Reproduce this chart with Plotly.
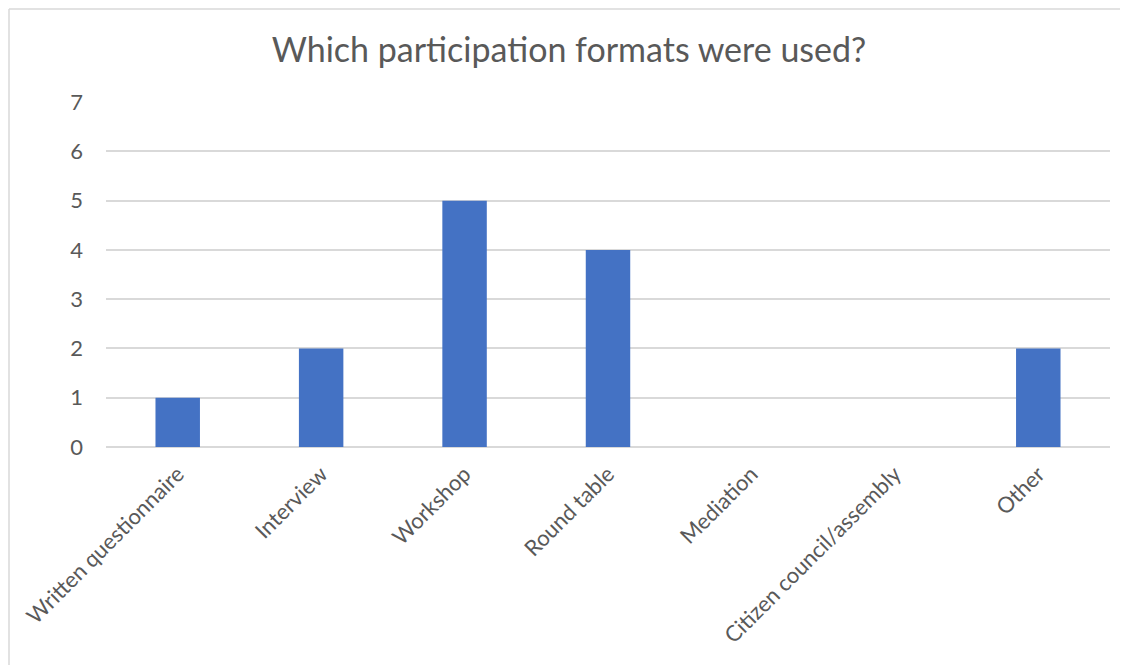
import plotly.graph_objects as go

categories = ["Written questionnaire", "Interview", "Workshop", "Round table",
              "Mediation", "Citizen council/assembly", "Other"]
counts = [1, 2, 5, 4, 0, 0, 2]
y_ticks = [0, 1, 2, 3, 4, 5, 6, 7]

OFF = 8  # page body margin
W, H = 1128 - OFF, 665 - OFF
L, T = 106 - OFF, 102 - OFF
R = W - (1110 - OFF)
B = H - (447 - OFF)
pw, ph = W - L - R, H - T - B

fig = go.Figure(go.Bar(x=categories, y=counts, marker_color="#4472C4",
                       marker_line_width=0))

fig.update_layout(
    width=W, height=H,
    margin=dict(l=L, r=R, t=T, b=B, autoexpand=False),
    paper_bgcolor="white", plot_bgcolor="white",
    font=dict(family="Lato, Open Sans, sans-serif", color="#595959", size=22),
    title=dict(text="Which participation formats were used?", x=(569 - OFF) / W, xanchor="center",
               y=1 - (50 - OFF) / H, yanchor="middle",
               font=dict(size=34, color="#595959")),
    bargap=0.69,
    showlegend=False,
    xaxis=dict(tickangle=-45, showgrid=False, showline=False, ticks="",
               ticklabelstandoff=9,
               tickfont=dict(size=22, color="#595959")),
    yaxis=dict(range=[0, 7.004], tickvals=y_ticks, showgrid=True, gridcolor="#d9d9d9",
               gridwidth=1.5, zeroline=True, zerolinecolor="#d9d9d9", zerolinewidth=1.5,
               showline=False, ticks="", ticklabelstandoff=22,
               tickfont=dict(size=22, color="#595959")),
)

# frame lines (top and left edges of chart border), kept just inside the figure
fx0 = (1 - L) / pw
fy_top = (H - B - 1) / ph
fy_bot = (H - B - H) / ph
fx1 = (W - L) / pw
fig.add_shape(type="line", xref="paper", yref="paper", x0=fx0, x1=fx1, y0=fy_top, y1=fy_top,
              line=dict(color="#d9d9d9", width=1.5))
fig.add_shape(type="line", xref="paper", yref="paper", x0=fx0, x1=fx0, y0=fy_bot, y1=fy_top,
              line=dict(color="#d9d9d9", width=1.5))

fig.write_html("out.html")
